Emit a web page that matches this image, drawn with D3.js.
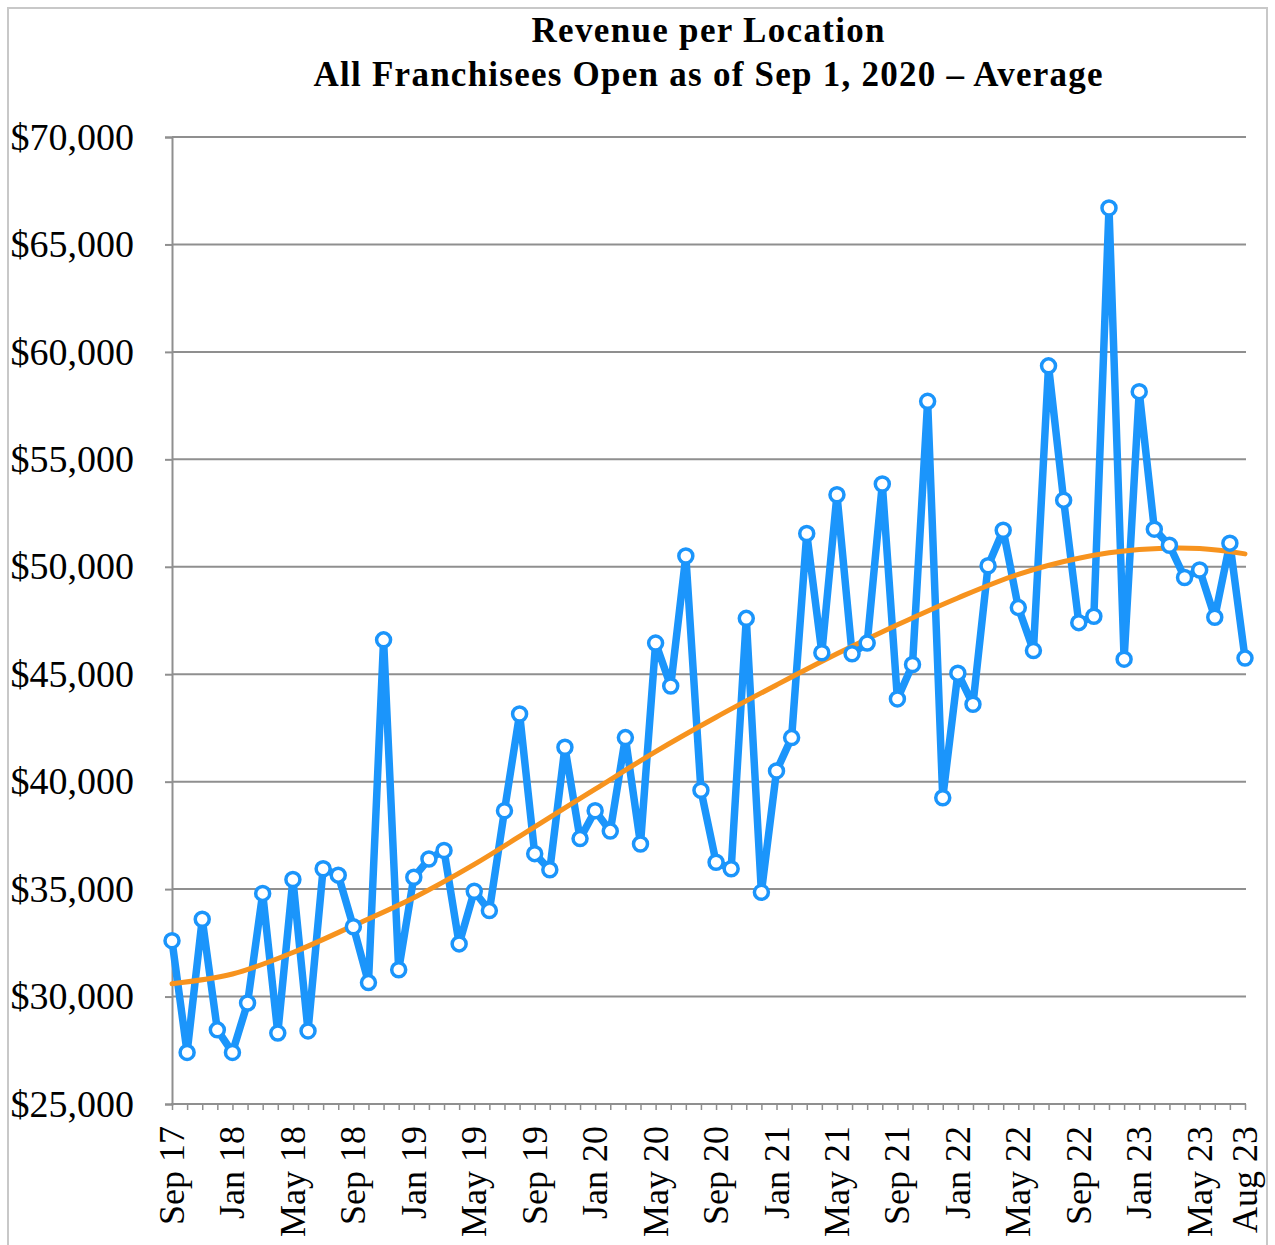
<!DOCTYPE html>
<html>
<head>
<meta charset="utf-8">
<script src="https://cdn.jsdelivr.net/npm/d3@7"></script>
<style>
  body { margin: 0; background: #fff; }
</style>
</head>
<body>
<script>
// revenue per location chart
var w = 1275;
var h = 1245;

// monthly labels Sep 17 .. Aug 23
var months = ["Sep 17","Oct 17","Nov 17","Dec 17","Jan 18","Feb 18","Mar 18","Apr 18","May 18","Jun 18","Jul 18","Aug 18",
  "Sep 18","Oct 18","Nov 18","Dec 18","Jan 19","Feb 19","Mar 19","Apr 19","May 19","Jun 19","Jul 19","Aug 19",
  "Sep 19","Oct 19","Nov 19","Dec 19","Jan 20","Feb 20","Mar 20","Apr 20","May 20","Jun 20","Jul 20","Aug 20",
  "Sep 20","Oct 20","Nov 20","Dec 20","Jan 21","Feb 21","Mar 21","Apr 21","May 21","Jun 21","Jul 21","Aug 21",
  "Sep 21","Oct 21","Nov 21","Dec 21","Jan 22","Feb 22","Mar 22","Apr 22","May 22","Jun 22","Jul 22","Aug 22",
  "Sep 22","Oct 22","Nov 22","Dec 22","Jan 23","Feb 23","Mar 23","Apr 23","May 23","Jun 23","Jul 23","Aug 23"];

var revenue = [32600,27400,33600,28450,27400,29700,34800,28300,35450,28400,35950,35650,
  33250,30650,46600,31250,35550,36400,36800,32450,34900,34000,38650,43150,
  36650,35900,41600,37350,38650,37700,42050,37100,46450,44450,50500,39600,
  36250,35950,47600,34850,40500,42050,51550,46000,53350,45950,46450,53850,
  43850,45450,57700,39250,45050,43600,50050,51700,48100,46100,59350,53100,
  47400,47700,66700,45700,58150,51750,51000,49500,49850,47650,51100,45750];

// trend line read at sample months (index, value)
var trendIdx = [0,4,8,12,16,20,24,28,32,36,40,44,48,52,56,60,64,68,71];
var trendVal = [30600,31050,32050,33300,34600,36150,37900,39650,41400,43000,44500,45950,47300,48550,49650,50400,50800,50850,50600];

var yTicks = [25000,30000,35000,40000,45000,50000,55000,60000,65000,70000];
var xLabelIdx = [0,4,8,12,16,20,24,28,32,36,40,44,48,52,56,60,64,68,71];

var svg = d3.select("body").append("svg")
  .attr("width", w)
  .attr("height", h);

// outer frame
svg.append("rect")
  .attr("x", 8).attr("y", 8)
  .attr("width", 1259).attr("height", 1250)
  .attr("fill", "none")
  .attr("stroke", "#c8c8c8")
  .attr("stroke-width", 2);

var x = d3.scaleLinear().domain([0, months.length - 1]).range([172, 1245]);
var y = d3.scaleLinear().domain([25000, 70000]).range([1104, 137]);

// gridlines
svg.selectAll("line.grid")
  .data(yTicks.slice(1))
  .enter()
  .append("line")
  .attr("class", "grid")
  .attr("x1", 172).attr("x2", 1246)
  .attr("y1", function(d){ return y(d); })
  .attr("y2", function(d){ return y(d); })
  .attr("stroke", "#8f8f8f")
  .attr("stroke-width", 2);

// y axis
var yAxis = d3.axisLeft(y).tickValues(yTicks).tickSize(7)
  .tickFormat(function(d){ return "$" + d3.format(",")(d); });
var gy = svg.append("g").attr("transform", "translate(172,0)").call(yAxis);
gy.select(".domain").attr("stroke", "#8f8f8f").attr("stroke-width", 2);
gy.selectAll(".tick line").attr("stroke", "#8f8f8f").attr("stroke-width", 2);
gy.selectAll(".tick text")
  .attr("x", -38)
  .attr("fill", "#000")
  .attr("font-family", "Liberation Serif, serif")
  .attr("font-size", 38)
  .attr("text-anchor", "end");

// x axis with monthly ticks
var xAxis = d3.axisBottom(x).tickValues(d3.range(months.length)).tickSize(6).tickFormat("");
var gx = svg.append("g").attr("transform", "translate(0,1104)").call(xAxis);
gx.select(".domain").attr("stroke", "#8f8f8f").attr("stroke-width", 2).attr("d", "M171,0H1246");
gx.selectAll(".tick line").attr("stroke", "#8f8f8f").attr("stroke-width", 1.5);

svg.selectAll("text.xlab")
  .data(xLabelIdx)
  .enter()
  .append("text")
  .attr("class", "xlab")
  .text(function(d){ return months[d]; })
  .attr("transform", function(d){ return "translate(" + (x(d) + 12) + ",1126) rotate(-90)"; })
  .attr("text-anchor", "end")
  .attr("font-family", "Liberation Serif, serif")
  .attr("font-size", 36)
  .attr("fill", "#000");

// title (stretched to the width of the original font)
svg.append("text")
  .text("Revenue per Location")
  .attr("x", 708).attr("y", 42)
  .attr("text-anchor", "middle")
  .attr("textLength", 353)
  .attr("font-family", "Liberation Serif, serif")
  .attr("font-weight", "bold")
  .attr("font-size", 35);
svg.append("text")
  .text("All Franchisees Open as of Sep 1, 2020 \u2013 Average")
  .attr("x", 708).attr("y", 86)
  .attr("text-anchor", "middle")
  .attr("textLength", 789)
  .attr("font-family", "Liberation Serif, serif")
  .attr("font-weight", "bold")
  .attr("font-size", 35);

// data line
var line = d3.line()
  .x(function(d,i){ return x(i); })
  .y(function(d){ return y(d); });

svg.append("path")
  .datum(revenue)
  .attr("d", line)
  .attr("fill", "none")
  .attr("stroke", "#1b95fb")
  .attr("stroke-width", 7.5)
  .attr("stroke-linejoin", "round");

// trend line
var trendLine = d3.line()
  .x(function(d,i){ return x(trendIdx[i]); })
  .y(function(d){ return y(d); })
  .curve(d3.curveCatmullRom);

svg.append("path")
  .datum(trendVal)
  .attr("d", trendLine)
  .attr("fill", "none")
  .attr("stroke", "#f7931e")
  .attr("stroke-width", 5)
  .attr("stroke-linecap", "round");

// markers
svg.selectAll("circle")
  .data(revenue)
  .enter()
  .append("circle")
  .attr("cx", function(d,i){ return x(i); })
  .attr("cy", function(d){ return y(d); })
  .attr("r", 7)
  .attr("fill", "#fff")
  .attr("stroke", "#1b95fb")
  .attr("stroke-width", 3.5);
</script>
</body>
</html>
